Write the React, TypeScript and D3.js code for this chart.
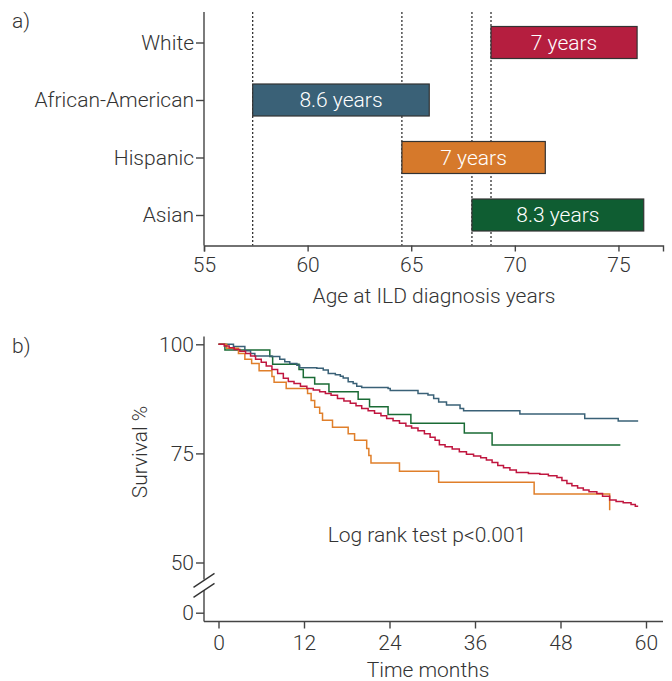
import React, { useRef, useEffect } from 'react';
import * as d3 from 'd3';

// panel a: age at ILD diagnosis, bar from start age to end age
const groups = ['White', 'African-American', 'Hispanic', 'Asian'];
const ageStart = [68.85, 57.35, 64.55, 67.93];
const ageEnd = [75.9, 65.87, 71.47, 76.22];
const barLabels = ['7 years', '8.6 years', '7 years', '8.3 years'];
const barColors = ['#b51e3f', '#3a6177', '#d6792b', '#0f5d32'];
const ageTicks = [55, 60, 65, 70, 75];

// panel b: Kaplan-Meier steps [months, survival %]
const whiteCurve = [
    [0, 100], [0.8, 99.6], [1.5, 99.2], [2.2, 98.8], [3.0, 98.4], [3.8, 97.9], [4.5, 97.3], [5.2, 96.6],
    [6.0, 95.9], [6.7, 95.0], [7.5, 94.2], [8.3, 93.3], [9.1, 92.2], [9.8, 91.5], [10.6, 91.0], [11.5, 90.4],
    [12.4, 89.9], [13.3, 89.5], [14.2, 89.1], [15.0, 88.7], [15.8, 88.3], [16.7, 87.6], [17.6, 87.0], [18.5, 86.5],
    [19.3, 85.9], [20.1, 85.3], [21.0, 84.8], [21.9, 84.2], [22.8, 83.6], [23.6, 83.0], [24.5, 82.5], [25.4, 81.9],
    [26.3, 81.3], [27.1, 80.8], [28.0, 80.2], [28.9, 79.5], [29.7, 78.7], [30.4, 78.0], [31.0, 77.0], [31.8, 76.5],
    [32.8, 76.0], [33.8, 75.4], [34.8, 74.8], [35.8, 74.4], [36.8, 74.0], [37.6, 73.5], [38.4, 72.9], [39.2, 72.2],
    [40.0, 71.7], [40.9, 71.2], [41.8, 70.6], [43.5, 70.4], [45.1, 70.2], [46.3, 69.9], [47.5, 69.5], [48.2, 68.8],
    [48.9, 68.1], [49.6, 67.6], [50.4, 67.1], [51.2, 66.6], [52.0, 66.2], [53.1, 65.8], [53.9, 65.2], [54.9, 64.3],
    [55.8, 64.0], [56.8, 63.7], [57.9, 63.3], [58.5, 62.9], [58.9, 62.9],
];
const africanAmericanCurve = [
    [0, 100], [2.1, 99.5], [3.7, 98.5], [4.5, 97.9], [5.1, 97.3], [7.5, 97.2], [8.6, 96.6], [9.3, 96.0],
    [10.0, 95.6], [11.0, 95.2], [11.4, 94.6], [13.8, 94.5], [14.7, 94.1], [15.4, 93.3], [16.4, 93.0], [17.1, 92.7],
    [17.5, 92.3], [18.2, 91.4], [18.9, 91.0], [19.4, 90.4], [20.1, 90.1], [23.8, 89.9], [24.1, 89.4], [28.0, 88.75],
    [29.4, 88.4], [30.2, 87.6], [30.9, 86.8], [32.0, 86.1], [33.9, 85.3], [34.4, 84.8], [42.3, 84.0], [51.4, 83.0],
    [56.1, 82.4], [58.9, 82.4],
];
const hispanicCurve = [
    [0, 100], [1.15, 99.1], [2.8, 97.9], [3.7, 96.55], [4.65, 95.6], [5.7, 93.95], [7.5, 92.6], [7.8, 91.3],
    [9.5, 89.9], [12.5, 88.75], [13.0, 87.1], [13.5, 85.6], [14.2, 84.2], [14.6, 82.6], [16.0, 81.0], [18.2, 79.5],
    [19.1, 78.0], [20.8, 76.1], [21.1, 74.5], [21.4, 72.8], [25.4, 70.9], [30.9, 68.4], [44.3, 65.7], [54.9, 62.0],
];
const asianCurve = [
    [0, 100], [0.9, 98.7], [7.2, 97.2], [7.6, 95.4], [11.3, 94.2], [11.9, 92.4], [13.5, 90.9], [15.5, 89.1],
    [19.6, 87.4], [21.2, 85.7], [23.8, 83.9], [27.0, 81.9], [34.5, 79.7], [38.4, 76.9], [56.4, 76.9],
];
const curveColors = ['#c0163f', '#3a6177', '#e07f2a', '#1a6b35'];
const monthTicks = [0, 12, 24, 36, 48, 60];
const survivalTicks = [0, 50, 75, 100];

const FONT = 'Roboto, "DejaVu Sans", sans-serif';
const FS = 21;
const INK = '#333';

const App = () => {
    const svgRef = useRef(null);

    useEffect(() => {
        const svg = d3.select(svgRef.current);
        svg.selectAll('*').remove();

        const txt = (sel) => sel
            .attr('font-size', FS).attr('font-family', FONT)
            .attr('font-weight', 300).attr('fill', INK);

        // ---------- panel a ----------
        const xA = d3.scaleLinear().domain([55, 77.15]).range([204, 663]);
        const yA = d3.scalePoint().domain(groups).range([42.5, 215]);
        const barH = 32;
        const topA = 12;
        const baseA = 245.5;

        const a = svg.append('g');

        a.append('text').attr('x', 12).attr('y', 28).text('a)').call(txt);

        // dotted lines at each bar start
        a.selectAll('.vline').data(ageStart).enter().append('line')
            .attr('x1', d => xA(d)).attr('x2', d => xA(d))
            .attr('y1', topA).attr('y2', baseA)
            .attr('stroke', '#222').attr('stroke-width', 1.2).attr('stroke-dasharray', '2,2');

        groups.forEach((g, i) => {
            a.append('rect')
                .attr('x', xA(ageStart[i]))
                .attr('y', yA(g) - barH / 2)
                .attr('width', xA(ageEnd[i]) - xA(ageStart[i]))
                .attr('height', barH)
                .attr('fill', barColors[i])
                .attr('stroke', '#333').attr('stroke-width', 1.2);
            a.append('text')
                .attr('x', (xA(ageStart[i]) + xA(ageEnd[i])) / 2)
                .attr('y', yA(g))
                .attr('dy', '0.35em')
                .attr('text-anchor', 'middle')
                .call(txt)
                .attr('fill', '#fff')
                .text(barLabels[i]);
        });

        const xAxisA = a.append('g')
            .attr('transform', `translate(0,${baseA})`)
            .call(d3.axisBottom(xA).tickValues(ageTicks).tickSizeOuter(0).tickSize(6).tickPadding(6));
        const yAxisA = a.append('g')
            .attr('transform', 'translate(204,0)')
            .call(d3.axisLeft(yA).tickSize(8).tickPadding(2));
        yAxisA.select('.domain').remove();
        a.append('line').attr('x1', 204).attr('x2', 204).attr('y1', topA).attr('y2', baseA)
            .attr('stroke', '#444').attr('stroke-width', 1.4);

        [xAxisA, yAxisA].forEach(ax => {
            ax.selectAll('path,line').attr('stroke', '#444').attr('stroke-width', 1.4);
            ax.selectAll('text').call(txt);
        });

        a.append('text').attr('x', 434).attr('y', 303).attr('text-anchor', 'middle')
            .call(txt).text('Age at ILD diagnosis years');

        // ---------- panel b ----------
        const xB = d3.scaleLinear().domain([0, 60]).range([218.5, 646]);
        const yB = d3.scaleLinear().domain([0, 50, 100]).range([612.7, 562.5, 344.3]);
        const baseB = 621.5;

        const b = svg.append('g');

        b.append('text').attr('x', 12).attr('y', 353).text('b)').call(txt);

        const xAxisB = b.append('g')
            .attr('transform', `translate(0,${baseB})`)
            .call(d3.axisBottom(xB).tickValues(monthTicks).tickSize(7).tickPadding(7));
        xAxisB.select('.domain').remove();
        b.append('line').attr('x1', 204).attr('x2', 663).attr('y1', baseB).attr('y2', baseB)
            .attr('stroke', '#444').attr('stroke-width', 1.4);

        const yAxisB = b.append('g')
            .attr('transform', 'translate(204,0)')
            .call(d3.axisLeft(yB).tickValues(survivalTicks).tickSize(8).tickPadding(2));
        yAxisB.select('.domain').remove();

        // y axis with break
        b.append('line').attr('x1', 204).attr('x2', 204).attr('y1', 336.5).attr('y2', 579.5)
            .attr('stroke', '#444').attr('stroke-width', 1.4);
        b.append('line').attr('x1', 204).attr('x2', 204).attr('y1', 590).attr('y2', baseB)
            .attr('stroke', '#444').attr('stroke-width', 1.4);
        [0, 10].forEach(off => {
            b.append('line')
                .attr('x1', 193.5).attr('y1', 587.3 + off)
                .attr('x2', 214.5).attr('y2', 573.3 + off)
                .attr('stroke', '#333').attr('stroke-width', 1.4);
        });

        [xAxisB, yAxisB].forEach(ax => {
            ax.selectAll('line').attr('stroke', '#444').attr('stroke-width', 1.4);
            ax.selectAll('text').call(txt);
        });

        const line = d3.line()
            .x(d => xB(d[0]))
            .y(d => yB(d[1]))
            .curve(d3.curveStepAfter);

        [asianCurve, africanAmericanCurve, hispanicCurve, whiteCurve].forEach((c, i) => {
            const col = [curveColors[3], curveColors[1], curveColors[2], curveColors[0]][i];
            b.append('path')
                .attr('d', line(c))
                .attr('fill', 'none')
                .attr('stroke', col)
                .attr('stroke-width', 1.5);
        });

        b.append('text').attr('x', 427).attr('y', 542).attr('text-anchor', 'middle')
            .call(txt).text('Log rank test p<0.001');

        b.append('text')
            .attr('transform', 'translate(147,452) rotate(-90)')
            .attr('text-anchor', 'middle')
            .call(txt).text('Survival %');

        b.append('text').attr('x', 428).attr('y', 677).attr('text-anchor', 'middle')
            .call(txt).text('Time months');
    }, []);

    return (
        <svg
            ref={svgRef}
            width={672}
            height={681}
            style={{ position: 'absolute', left: 0, top: 0, background: '#fff' }}
        />
    );
};

export default App;
